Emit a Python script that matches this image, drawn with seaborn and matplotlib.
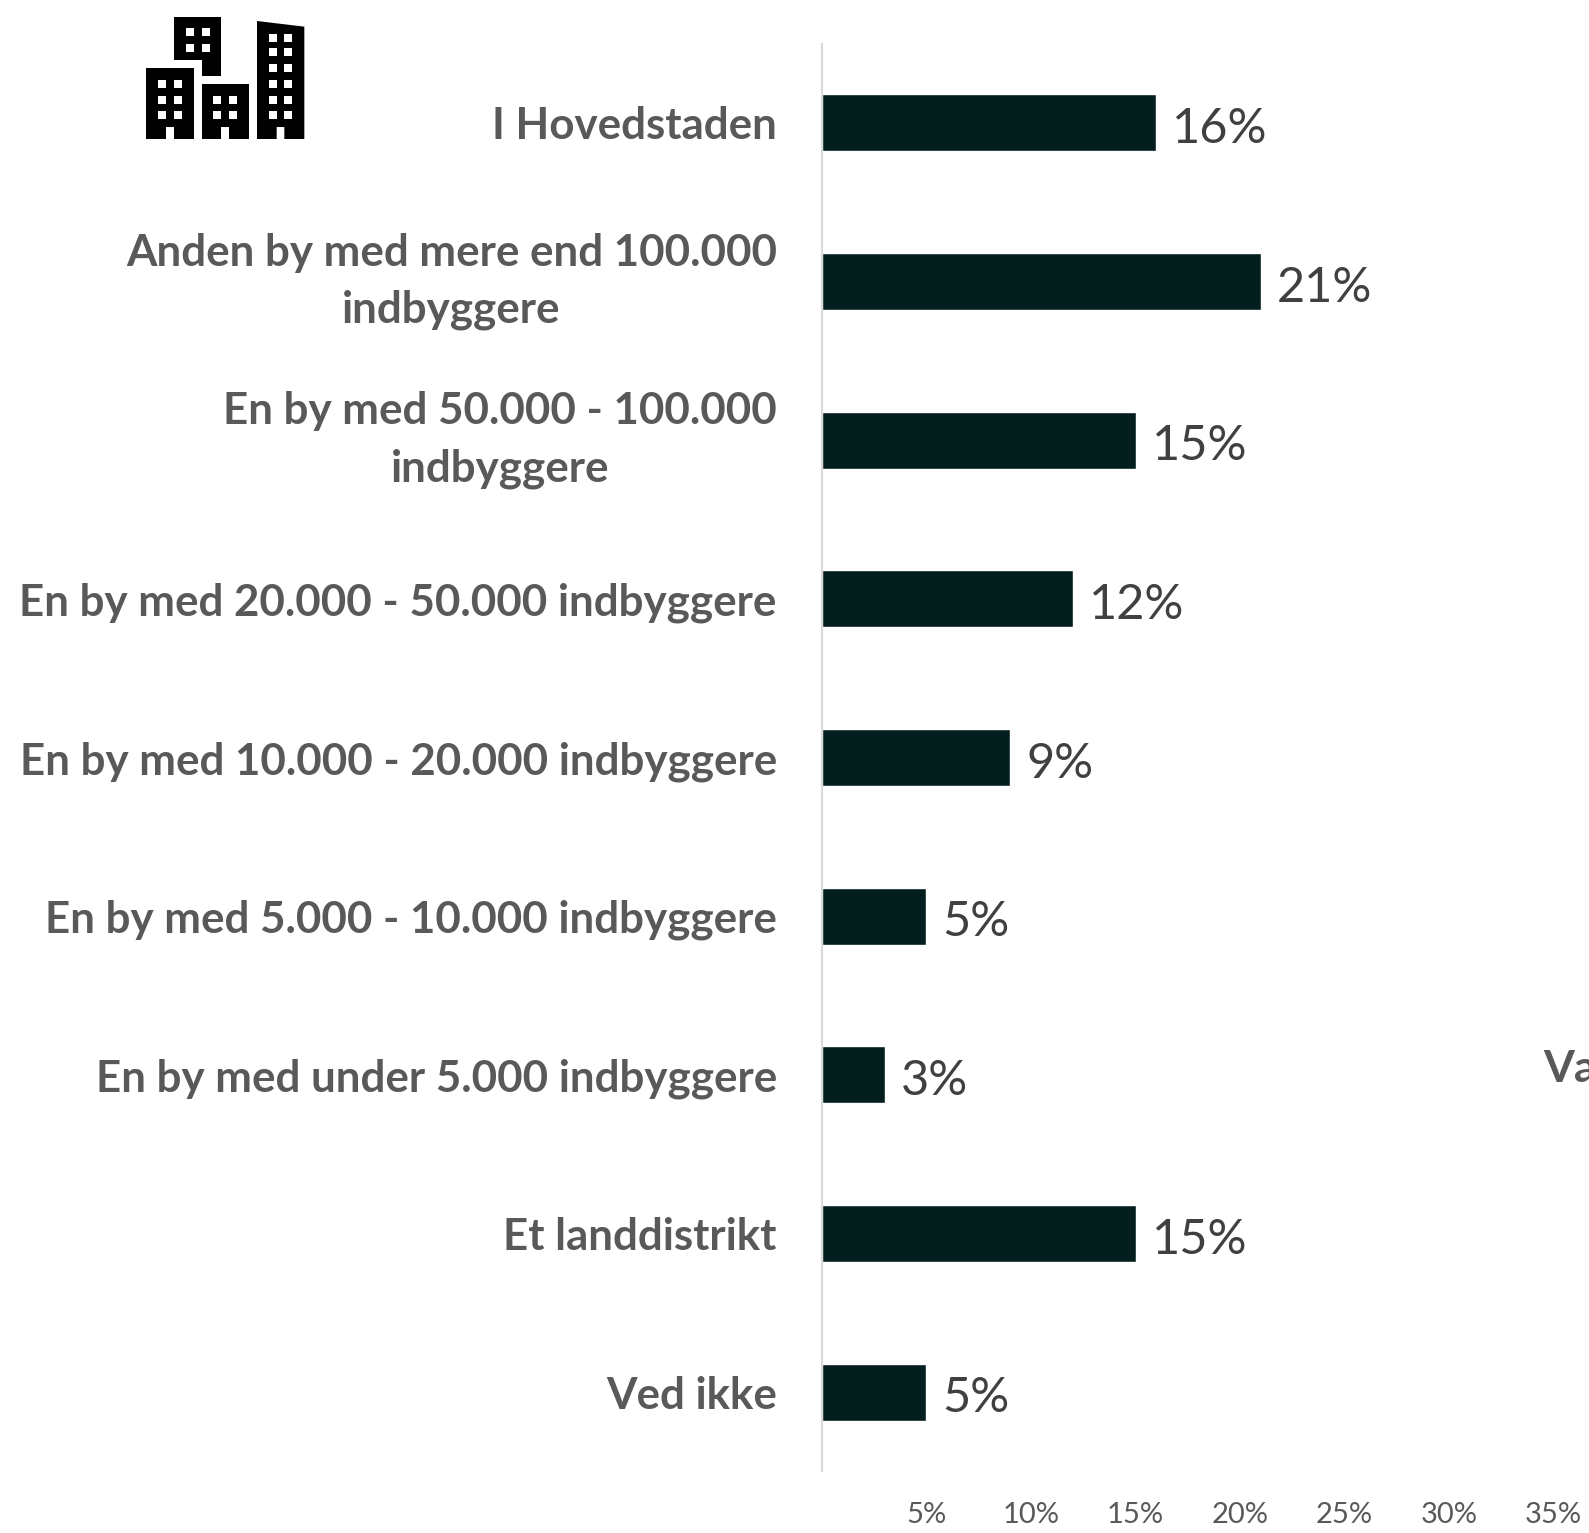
import matplotlib
matplotlib.use("Agg")
import matplotlib.pyplot as plt
from matplotlib.patches import Polygon, Rectangle
from matplotlib.ticker import FixedLocator, FuncFormatter
import pandas as pd
import seaborn as sns

categories = ["I Hovedstaden", "Anden by med mere end 100.000\nindbyggere",
              "En by med 50.000 - 100.000\nindbyggere",
              "En by med 20.000 - 50.000 indbyggere",
              "En by med 10.000 - 20.000 indbyggere",
              "En by med 5.000 - 10.000 indbyggere",
              "En by med under 5.000 indbyggere",
              "Et landdistrikt", "Ved ikke"]
values = [16, 21, 15, 12, 9, 5, 3, 15, 5]
tick_values = [5, 10, 15, 20, 25, 30, 35]
FONT = "Lato"
W, H = 1589, 1533

sns.set_theme(style="white")
plt.rcParams["font.family"] = [FONT, "DejaVu Sans"]
fig = plt.figure(figsize=(W / 100, H / 100), dpi=100, facecolor="white")
ax = fig.add_axes([822 / W, 1 - 1471.5 / H, (W - 822) / W, (1471.5 - 43.5) / H])
df = pd.DataFrame({"cat": categories, "val": values})
sns.barplot(data=df, y="cat", x="val", ax=ax, color="#041E1E", saturation=1, width=0.36, orient="h")
ax.set_xlim(0, (W - 822) / 20.9)
ax.set_ylim(len(values) - 0.5, -0.5)
ax.set_xlabel(""); ax.set_ylabel("")
for s in ["top", "right", "bottom"]:
    ax.spines[s].set_visible(False)
ax.spines["left"].set_color("#D9D9D9")
ax.spines["left"].set_linewidth(1.5)
ax.xaxis.set_major_locator(FixedLocator(tick_values))
ax.xaxis.set_major_formatter(FuncFormatter(lambda v, _: f"{v:.0f}%"))
ax.tick_params(axis="x", length=0, pad=22, labelsize=21, labelcolor="#595959")
ax.tick_params(axis="y", length=0, pad=32.5, labelsize=31.6, labelcolor="#595959")
for t in ax.get_yticklabels():
    t.set_fontweight("bold")
    t.set_multialignment("center")
    t.set_linespacing(1.52)
    t.set_verticalalignment("center" if "\n" in t.get_text() else "center_baseline")
for c in ax.containers:
    anns = ax.bar_label(c, labels=[f"{v}%" for v in values], padding=11.5, fontsize=35, color="#404040")
    for a in anns:
        a.xyann = (a.xyann[0], -4.5)

ov = fig.add_axes([0, 0, 1, 1], facecolor="none")
ov.set_xlim(0, W); ov.set_ylim(H, 0); ov.axis("off")

def P(x, y):
    return (120 + x / 3, y / 3)

def poly(pts, color="black"):
    ov.add_patch(Polygon([P(*p) for p in pts], closed=True, fc=color, ec="none"))

def windows(xs, ys, w=24):
    for x in xs:
        for y in ys:
            x0, y0 = P(x, y)
            ov.add_patch(Rectangle((x0, y0), w / 3, w / 3, fc="white", ec="none"))

poly([(162, 50), (304, 50), (304, 228), (245, 228), (245, 181), (162, 181)])
windows([197, 245], [85, 133])
poly([(79, 205), (221, 205), (221, 417), (162, 417), (162, 381), (139, 381), (139, 417), (79, 417)])
windows([115, 162], [240, 287, 334])
poly([(245, 252), (387, 252), (387, 417), (327, 417), (327, 381), (304, 381), (304, 417), (245, 417)])
windows([280, 328], [287, 334])
poly([(411, 63), (553, 80), (553, 417), (493, 417), (493, 381), (470, 381), (470, 417), (411, 417)])
windows([446, 493], [103, 145, 192, 240, 287, 334])

ov.text(1543, 1069, "Va", fontsize=32, fontweight="bold", color="#595959", ha="left", va="center")
fig.savefig("out.png", dpi=100, facecolor="white")
